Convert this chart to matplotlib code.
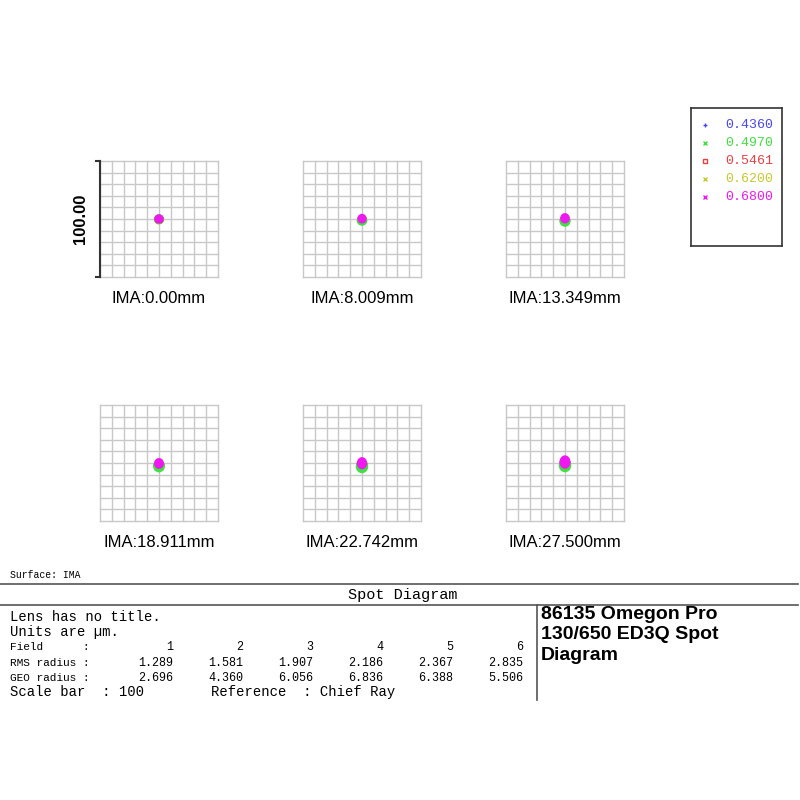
import matplotlib.pyplot as plt
from matplotlib.lines import Line2D
from matplotlib.patches import Ellipse

# field labels and summary values
FIELDS = ["IMA:0.00mm", "IMA:8.009mm", "IMA:13.349mm",
          "IMA:18.911mm", "IMA:22.742mm", "IMA:27.500mm"]
RMS = ["1.289", "1.581", "1.907", "2.186", "2.367", "2.835"]
GEO = ["2.696", "4.360", "6.056", "6.836", "6.388", "5.506"]

WAVES = ["0.4360", "0.4970", "0.5461", "0.6200", "0.6800"]
WAVE_COLORS = ["#4848f0", "#40e040", "#e84040", "#c8c830", "#f018f0"]
WAVE_MARKERS = ["+", "x", "s", "x", "x"]

# spot blobs per field, one entry per wavelength (um): x offset, y offset, width, height
SPOT_DX = [[0, 0, 0, 0, 0], [0, 0, 0, 0, 0], [0, 0, 0, 0, 0],
           [0, 0, 0, 0, 0], [0, 0, 0, 0, 0], [0, 0, 0, 0, 0]]
SPOT_DY = [[0, -0.2, -0.3, -0.5, 0],
           [-0.5, -1.2, -0.9, -0.6, 0.3],
           [-1.0, -1.8, -1.3, -1.0, 0.6],
           [-2.0, -2.8, -2.3, -1.8, -0.4],
           [-2.0, -3.0, -2.4, -1.8, -0.2],
           [-1.2, -2.0, -1.5, -1.0, 0.8]]
SPOT_W = [[8.0, 8.4, 8.2, 8.6, 8.0],
          [8.2, 9.0, 8.6, 8.2, 7.8],
          [8.6, 9.4, 9.0, 8.6, 8.2],
          [9.0, 10.0, 9.4, 8.8, 8.4],
          [9.4, 10.6, 10.0, 9.2, 8.8],
          [9.8, 10.6, 10.2, 9.6, 9.4]]
SPOT_H = [[8.0, 8.4, 8.2, 8.6, 8.0],
          [8.4, 9.2, 8.8, 8.4, 8.4],
          [9.0, 9.8, 9.4, 9.0, 9.0],
          [9.6, 10.6, 10.0, 9.4, 9.4],
          [10.6, 11.6, 11.0, 10.4, 10.6],
          [11.4, 12.0, 11.6, 11.0, 11.6]]

fig = plt.figure(figsize=(8, 8), dpi=100)
W, H = 800.0, 800.0

box_left = [100, 303, 506]
box_bottom = [277, 521]
box_w, box_h = 118, 116
grid_color = "#c8c8c8"

for i, name in enumerate(FIELDS):
    row, col = divmod(i, 3)
    ax = fig.add_axes([box_left[col] / W, 1 - box_bottom[row] / H, box_w / W, box_h / H])
    ax.set_xlim(-50, 50)
    ax.set_ylim(-50, 50)
    for v in range(-50, 51, 10):
        ax.axvline(v, color=grid_color, lw=1.0, zorder=1, clip_on=False)
        ax.axhline(v, color=grid_color, lw=1.0, zorder=1, clip_on=False)
    for s in ax.spines.values():
        s.set_visible(False)
    ax.set_xticks([])
    ax.set_yticks([])
    # draw order puts the magenta (0.68) spot on top
    order = [0, 3, 2, 1, 4]
    for k in order:
        ax.add_patch(Ellipse((SPOT_DX[i][k], SPOT_DY[i][k]), SPOT_W[i][k], SPOT_H[i][k],
                             color=WAVE_COLORS[k], lw=0, zorder=3 + order.index(k)))
    ax.text(0.5, -0.12, name, transform=ax.transAxes, ha="center", va="top",
            fontsize=12, family="Liberation Sans")
    if i == 0:
        ax.plot([-50, -50], [-50, 50], color="#333333", lw=1.5, clip_on=False, zorder=10)
        ax.plot([-53.5, -50], [50, 50], color="#333333", lw=1.5, clip_on=False, zorder=10)
        ax.plot([-53.5, -50], [-50, -50], color="#333333", lw=1.5, clip_on=False, zorder=10)
        ax.text(-60, 0, "100.00", rotation=90, ha="right", va="center",
                fontsize=12, fontweight="bold", family="Liberation Sans")

# legend box
lax = fig.add_axes([691 / W, 1 - 246 / H, 91 / W, 138 / H])
lax.set_xlim(0, 91)
lax.set_ylim(138, 0)
lax.set_xticks([])
lax.set_yticks([])
for s in lax.spines.values():
    s.set_color("#333333")
    s.set_linewidth(1.2)
for k, wl in enumerate(WAVES):
    y = 17 + 18 * k
    lax.plot([14], [y], marker=WAVE_MARKERS[k], color=WAVE_COLORS[k], ms=3.5,
             mew=1.0, mfc="none" if WAVE_MARKERS[k] == "s" else WAVE_COLORS[k], ls="none")
    lax.text(34, y, wl, color=WAVE_COLORS[k], ha="left", va="center",
             fontsize=9.5, family="Liberation Mono")

# frame lines of the text block
line_kw = dict(color="#555555", lw=1.2)
fig.add_artist(Line2D([0, 798 / W], [1 - 584 / H] * 2, **line_kw))
fig.add_artist(Line2D([0, 798 / W], [1 - 605 / H] * 2, **line_kw))
fig.add_artist(Line2D([537 / W] * 2, [1 - 605 / H, 1 - 700 / H], **line_kw))

mono = "Liberation Mono"
fig.text(10 / W, 1 - 575 / H, "Surface: IMA", fontsize=7, family=mono, va="center")
fig.text(403 / W, 1 - 595 / H, "Spot Diagram", fontsize=11, family=mono,
         ha="center", va="center")
fig.text(10 / W, 1 - 617 / H, "Lens has no title.", fontsize=10, family=mono, va="center")
fig.text(10 / W, 1 - 632 / H, "Units are \u00b5m.", fontsize=10, family=mono, va="center")

col_right = [173, 243, 313, 383, 453, 523]
rows = [("Field      :", [str(n + 1) for n in range(6)], 647),
        ("RMS radius :", RMS, 663),
        ("GEO radius :", GEO, 678)]
for label, vals, y in rows:
    fig.text(10 / W, 1 - y / H, label, fontsize=8, family=mono, va="center")
    for x, v in zip(col_right, vals):
        fig.text(x / W, 1 - y / H, v, fontsize=8.5, family=mono, ha="right", va="center")
fig.text(10 / W, 1 - 692 / H, "Scale bar  : 100", fontsize=10, family=mono, va="center")
fig.text(211 / W, 1 - 692 / H, "Reference  : Chief Ray", fontsize=10, family=mono, va="center")

fig.text(541 / W, 1 - 606 / H, "86135 Omegon Pro\n130/650 ED3Q Spot\nDiagram",
         fontsize=14, fontweight="bold", family="Liberation Sans", va="top",
         linespacing=1.25)

fig.savefig("out.png", dpi=100)
